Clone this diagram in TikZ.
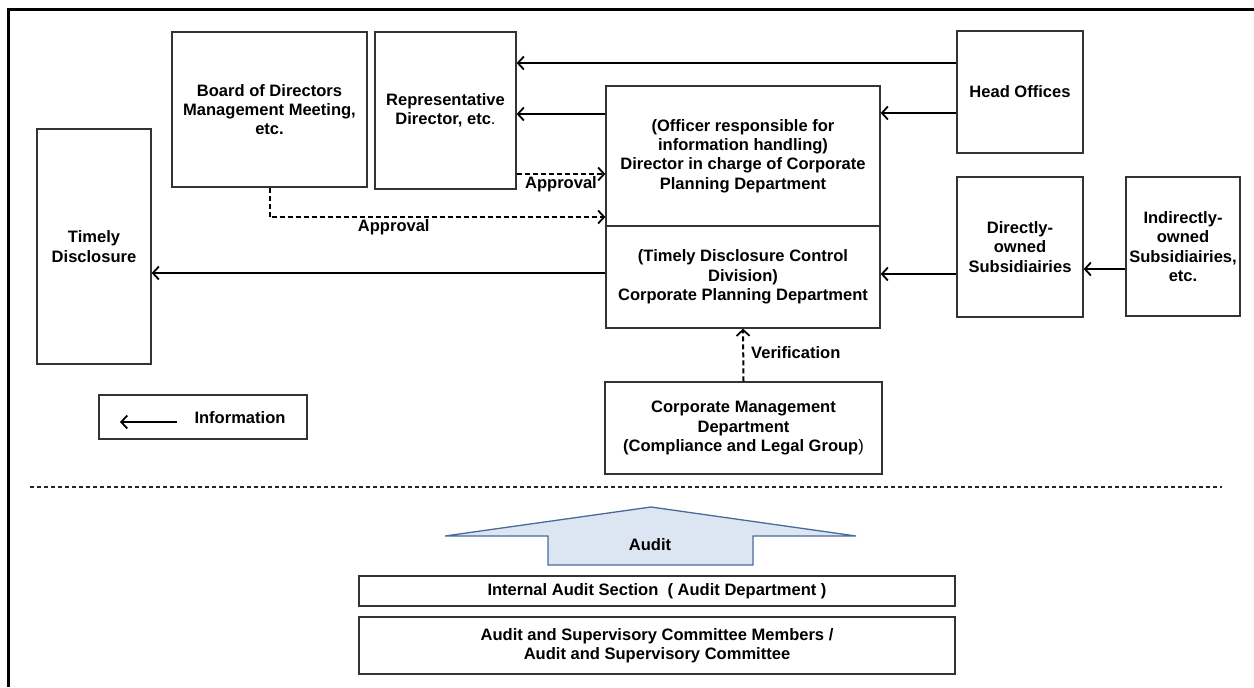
\documentclass[tikz,border=0pt]{standalone}
\usepackage{fontspec}
\setmainfont{Liberation Sans}
\usetikzlibrary{arrows.meta}
\newdimen\px \px=0.75pt
\definecolor{auditfill}{HTML}{DCE6F2}
\definecolor{auditdraw}{HTML}{4A6A9A}
\tikzset{
  box/.style={draw=black!80, line width=1.3\px, fill=white, align=center, inner sep=0pt},
  info/.style={line width=2\px, -{Straight Barb[length=4.5pt,width=9.75pt,line width=1.35pt]}},
  approval/.style={info, dash pattern=on 5\px off 3\px},
  lbl/.style={inner sep=2\px},
}
\begin{document}
\begin{tikzpicture}[x=\px, y=-\px, font=\fontsize{12.4}{14.5}\selectfont\bfseries]
  \useasboundingbox (0,0) rectangle (1254,687);
  % outer frame
  \draw[line width=3\px] (8,687) -- (8,9) -- (1254,9);

  % upper part
  \node[box, minimum width=195\px, minimum height=155\px] (board) at (269.5,109.5)
    {Board of Directors\\Management Meeting,\\etc.};
  \node[box, minimum width=141\px, minimum height=157\px] (rep) at (445.5,110.5)
    {Representative\\Director, etc\textmd{.}};
  \node[box, minimum width=274\px, minimum height=140\px] (officer) at (743,156)
    {(Officer responsible for\\information handling)\\Director in charge of Corporate\\Planning Department};
  \node[box, minimum width=274\px, minimum height=102\px] (tdc) at (743,277)
    {(Timely Disclosure Control\\Division)\\Corporate Planning Department};
  \node[box, minimum width=126\px, minimum height=122\px] (head) at (1020,92)
    {Head Offices};
  \node[box, minimum width=126\px, minimum height=140\px] (direct) at (1020,247)
    {Directly-\\owned\\Subsidiairies};
  \node[box, minimum width=114\px, minimum height=139\px] (indirect) at (1183,246.5)
    {Indirectly-\\owned\\Subsidiairies,\\etc.};
  \node[box, minimum width=114\px, minimum height=235\px] (timely) at (94,246.5)
    {Timely\\Disclosure};
  \node[box, minimum width=277\px, minimum height=92\px] (cmd) at (743.5,428)
    {Corporate Management\\Department\\(Compliance and Legal Group\textmd{)}};

  % legend
  \node[box, minimum width=208\px, minimum height=44\px] (legend) at (203,417) {};
  \node (legtext) at (240,418) {Information};
  \coordinate (legS) at (177,422);
  \coordinate (legE) at (120,422);
  \draw[info] (legS) -- (legE);

  % information flows
  \draw[info] (head.west |- 0,63) -- (rep.east |- 0,63);
  \draw[info] (officer.west |- 0,114) -- (rep.east |- 0,114);
  \draw[info] (head.west |- 0,113) -- (officer.east |- 0,113);
  \draw[info] (tdc.west |- 0,273) -- (timely.east |- 0,273);
  \draw[info] (direct.west |- 0,274) -- (tdc.east |- 0,274);
  \draw[info] (indirect.west |- 0,269) -- (direct.east |- 0,269);

  % approvals and verification
  \draw[approval] (rep.east |- 0,174) -- node[lbl, below] {Approval} (officer.west |- 0,174);
  \draw[approval] (board.south) -- (board.south |- 0,217)
    -- node[lbl, below, pos=0.37] {Approval} (officer.west |- 0,217);
  \draw[approval] (cmd.north) -- node[lbl, right=5\px, pos=0.55] {Verification} (tdc.south);

  % separator
  \draw[black!85, line width=1.2\px, dash pattern=on 4\px off 3\px] (30,487) -- (1222,487);

  % audit
  \draw[fill=auditfill, draw=auditdraw, line width=1.3\px]
    (651,507) -- (856,536) -- (753,536) -- (753,565) -- (548,565) -- (548,536) -- (445,536) -- cycle;
  \node (audit) at (650,545) {Audit};
  \node[box, minimum width=596\px, minimum height=30\px] (ias) at (657,591)
    {Internal Audit Section\ \ ( Audit Department )};
  \node[box, minimum width=596\px, minimum height=57\px] (asc) at (657,645.5)
    {Audit and Supervisory Committee Members /\\Audit and Supervisory Committee};
\end{tikzpicture}
\end{document}
